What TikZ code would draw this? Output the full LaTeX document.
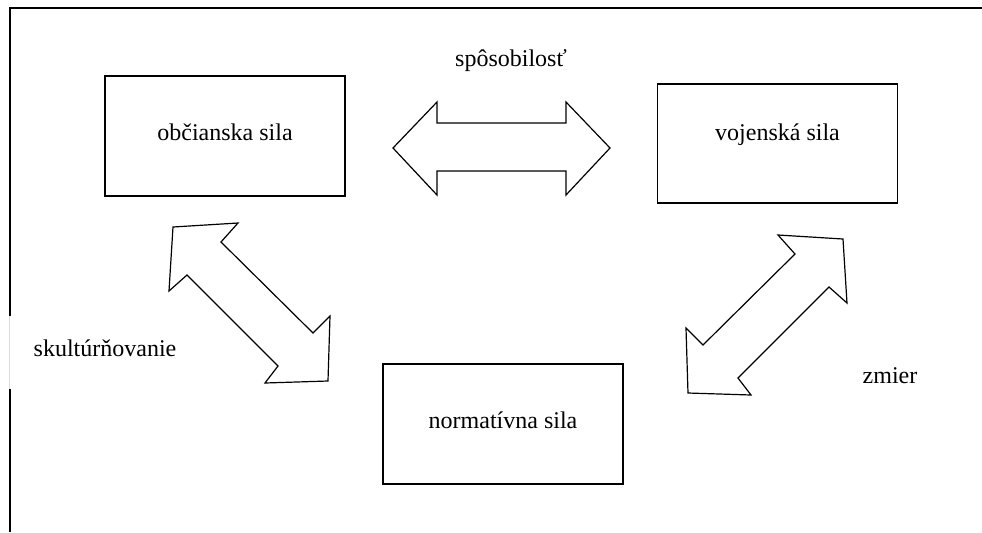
\documentclass[tikz,border=0pt]{standalone}
\usepackage{fontspec}
\setmainfont{Liberation Serif}
\begin{document}
\begin{tikzpicture}[x=0.5pt,y=-0.5pt,
  box/.style={draw, line width=0.8pt, minimum width=120pt, minimum height=60pt, inner sep=0pt},
  lbl/.style={font=\fontsize{12}{14}\selectfont, anchor=base, inner sep=0pt},
  blockarrow/.style={draw, line width=0.6pt, line join=miter, fill=white},
  frameline/.style={line width=1pt}]
\useasboundingbox (0,0) rectangle (982,532);
% frame
\draw[frameline] (982,8) -- (9.5,8) -- (9.5,316);
\draw[frameline] (9.5,389) -- (9.5,532);
\draw[gray!30, line width=0.4pt] (9,316) -- (9,389);
% boxes
\node[box, minimum height=60pt] (obc) at (225,136) {};
\node[box, minimum height=59.5pt] (voj) at (777.5,143.5) {};
\node[box, minimum height=60pt] (nor) at (503,424) {};
% box texts
\node[lbl] (tobc) at (225,140) {občianska sila};
\node[lbl] (tvoj) at (777.5,140) {vojenská sila};
\node[lbl] (tnor) at (503,428) {normatívna sila};
% block arrows
\draw[blockarrow] (393,148) -- (437,102) -- (437,123) -- (566,123) -- (566,102) -- (610,148)
  -- (566,195) -- (566,171) -- (437,171) -- (437,195) -- cycle;
\draw[blockarrow] (173,227) -- (238,223) -- (221,242) -- (313,333) -- (330,316) -- (328,381)
  -- (265,383) -- (278,366) -- (187,275) -- (169,291) -- cycle;
\draw[blockarrow] (843,239) -- (778,235) -- (795,254) -- (703,345) -- (686,328) -- (688,393)
  -- (751,395) -- (738,378) -- (829,287) -- (847,303) -- cycle;
% labels
\node[lbl] (lspo) at (511,66) {spôsobilosť};
\node[lbl] (lsku) at (105,356) {skultúrňovanie};
\node[lbl] (lzmi) at (890,383) {zmier};
\end{tikzpicture}
\end{document}
